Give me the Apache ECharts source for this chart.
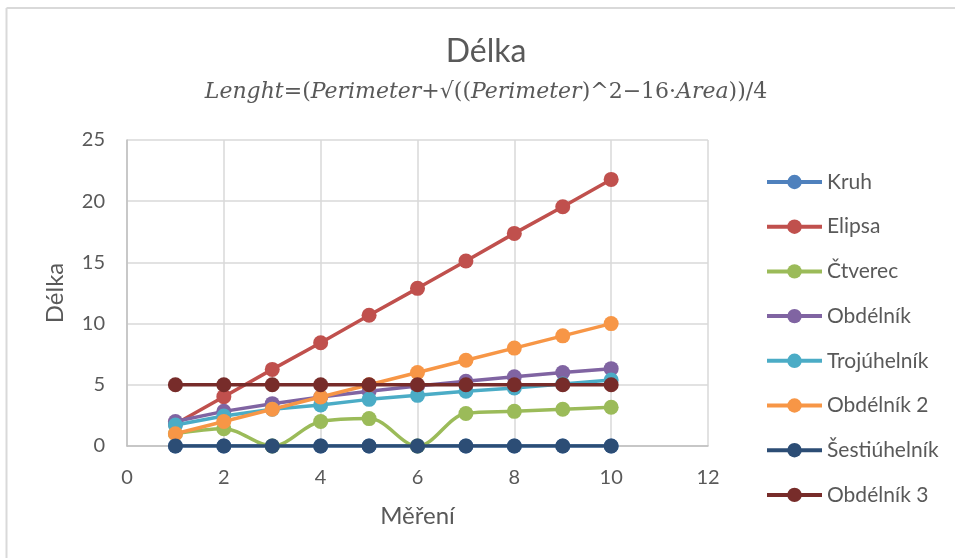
<!DOCTYPE html>
<html>
<head>
<meta charset="utf-8">
<script src="https://cdn.jsdelivr.net/npm/echarts@6/dist/echarts.min.js"></script>
<style>
html,body{margin:0;padding:0;background:#fff;}
#chart{width:955px;height:558px;}
</style>
</head>
<body>
<div id="chart"></div>
<script>
// ---- data ----
var measurements = [1, 2, 3, 4, 5, 6, 7, 8, 9, 10];
var seriesNames = ['Kruh', 'Elipsa', 'Čtverec', 'Obdélník', 'Trojúhelník', 'Obdélník 2', 'Šestiúhelník', 'Obdélník 3'];
var kruh = [0, 0, 0, 0, 0, 0, 0, 0, 0, 0];
var elipsa = [1.8, 4.03, 6.26, 8.44, 10.68, 12.88, 15.11, 17.37, 19.55, 21.78];
var ctverec = [1, 1.41, 0, 2, 2.24, 0, 2.65, 2.83, 3, 3.16];
var obdelnik = [2, 2.83, 3.46, 4, 4.47, 4.9, 5.29, 5.66, 6, 6.32];
var trojuhelnik = [1.72, 2.45, 3.0, 3.35, 3.81, 4.14, 4.47, 4.74, 5.07, 5.39];
var obdelnik2 = [1, 2, 3, 4, 5, 6, 7, 8, 9, 10];
var sestiuhelnik = [0, 0, 0, 0, 0, 0, 0, 0, 0, 0];
var obdelnik3 = [5, 5, 5, 5, 5, 5, 5, 5, 5, 5];
var xTicks = [0, 2, 4, 6, 8, 10, 12];
var yTicks = [0, 5, 10, 15, 20, 25];

var seriesValues = [kruh, elipsa, ctverec, obdelnik, trojuhelnik, obdelnik2, sestiuhelnik, obdelnik3];
var colors = ['#4F81BD', '#C0504D', '#9BBB59', '#8064A2', '#4BACC6', '#F79646', '#2C4D75', '#772C2A'];
var smoothFlags = [false, false, true, false, false, false, false, false];

var FONT = 'Lato';
var TXT = '#595959';

var series = seriesNames.map(function (name, i) {
  return {
    name: name,
    type: 'line',
    data: measurements.map(function (m, j) { return [m, seriesValues[i][j]]; }),
    smooth: smoothFlags[i] ? 0.35 : false,
    symbol: 'circle',
    symbolSize: 15,
    showSymbol: true,
    z: 2 + i,
    lineStyle: { width: 3.5, color: colors[i] },
    itemStyle: { color: colors[i] },
    emphasis: { disabled: true },
    animation: false
  };
});

var chart = echarts.init(document.getElementById('chart'), null, { renderer: 'canvas' });
chart.setOption({
  animation: false,
  color: colors,
  grid: { left: 127, right: 247, top: 140, bottom: 112, containLabel: false },
  graphic: [
    { type: 'line', shape: { x1: 6.5, y1: 8, x2: 955, y2: 8 }, style: { stroke: '#D9D9D9', lineWidth: 2 }, silent: true },
    { type: 'line', shape: { x1: 6.5, y1: 8, x2: 6.5, y2: 558 }, style: { stroke: '#D9D9D9', lineWidth: 2 }, silent: true },
    { type: 'text', x: 486, y: 52, style: { text: 'Délka', font: '32px ' + FONT, fill: TXT, align: 'center', verticalAlign: 'middle' }, silent: true },
    { type: 'text', x: 486, y: 92, style: {
        text: '{i|Lenght}{n|=(}{i|Perimeter}{n|+√((}{i|Perimeter}{n|)^2−16·}{i|Area}{n|))/4}',
        align: 'center', verticalAlign: 'middle', fill: TXT,
        rich: {
          i: { fontFamily: 'DejaVu Serif', fontStyle: 'italic', fontSize: 22, fill: TXT, color: TXT },
          n: { fontFamily: 'DejaVu Serif', fontSize: 22, fill: TXT, color: TXT }
        }
      }, silent: true }
  ],
  legend: {
    orient: 'vertical',
    left: 760,
    top: 165,
    itemWidth: 55,
    itemHeight: 18,
    itemGap: 20.7,
    data: seriesNames,
    lineStyle: { width: 4 },
    textStyle: { fontFamily: FONT, fontSize: 21, color: TXT, lineHeight: 24 },
    selectedMode: false
  },
  xAxis: {
    type: 'value',
    min: 0, max: 12, interval: 2,
    name: 'Měření',
    nameLocation: 'middle',
    nameGap: 58,
    nameTextStyle: { fontFamily: FONT, fontSize: 24, color: TXT },
    axisLine: { show: true, lineStyle: { color: '#BFBFBF', width: 1.5 } },
    axisTick: { show: false },
    axisLabel: { fontFamily: FONT, fontSize: 20, color: TXT, margin: 22 },
    splitLine: { show: true, lineStyle: { color: '#D9D9D9', width: 1.5 } }
  },
  yAxis: {
    type: 'value',
    min: 0, max: 25, interval: 5,
    name: 'Délka',
    nameLocation: 'middle',
    nameGap: 60,
    nameTextStyle: { fontFamily: FONT, fontSize: 24, color: TXT },
    axisLine: { show: true, lineStyle: { color: '#BFBFBF', width: 1.5 } },
    axisTick: { show: false },
    axisLabel: { fontFamily: FONT, fontSize: 20, color: TXT, margin: 22 },
    splitLine: { show: true, lineStyle: { color: '#D9D9D9', width: 1.5 } }
  },
  series: series
});
</script>
</body>
</html>
